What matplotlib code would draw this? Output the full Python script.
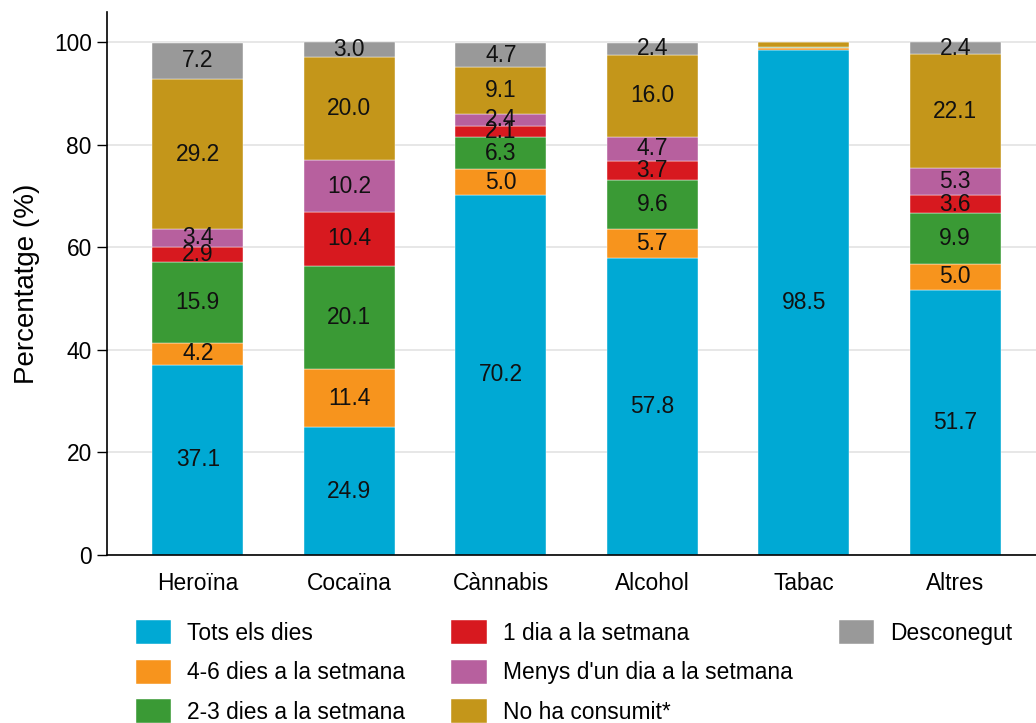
import matplotlib
matplotlib.use("Agg")
import matplotlib.pyplot as plt
from matplotlib.patches import Rectangle
import numpy as np

plt.rcParams['font.family'] = ['Liberation Sans', 'DejaVu Sans']

categories = ["Heroïna", "Cocaïna", "Cànnabis", "Alcohol", "Tabac", "Altres"]
series_names = ["Tots els dies", "4-6 dies a la setmana", "2-3 dies a la setmana",
                "1 dia a la setmana", "Menys d'un dia a la setmana", "No ha consumit*",
                "Desconegut"]
tots = [37.1, 24.9, 70.2, 57.8, 98.5, 51.7]
d46 = [4.2, 11.4, 5.0, 5.7, 0.3, 5.0]
d23 = [15.9, 20.1, 6.3, 9.6, 0.2, 9.9]
d1 = [2.9, 10.4, 2.1, 3.7, 0.0, 3.6]
menys = [3.4, 10.2, 2.4, 4.7, 0.0, 5.3]
no_cons = [29.2, 20.0, 9.1, 16.0, 1.0, 22.1]
descon = [7.2, 3.0, 4.7, 2.4, 0.0, 2.4]
colors = ["#00A9D4", "#F7941D", "#3A9A35", "#D7191F", "#B7609E", "#C4961A", "#999999"]

series = [tots, d46, d23, d1, menys, no_cons, descon]

fig = plt.figure(figsize=(10.36, 7.23), dpi=100)
ax = fig.add_axes([107/1036, 1-555/723, (1046-107)/1036, (555-12)/723])

x = np.arange(len(categories))
bottom = np.zeros(len(categories))
handles = []
for vals, name, col in zip(series, series_names, colors):
    v = np.array(vals)
    bars = ax.bar(x, v, 0.6, bottom=bottom, color=col, label=name, zorder=2,
                  edgecolor='white', linewidth=0.3)
    handles.append(bars)
    for xi, b, vi in zip(x, bottom, v):
        if vi >= 2:
            ax.text(xi, b + vi/2, f"{vi:.1f}", ha='center', va='center',
                    fontsize=16.4, color='#111111', zorder=3)
    bottom += v

ax.set_xlim(-0.6, 5.6)
ax.set_ylim(0, 105.85)
ax.set_yticks([0, 20, 40, 60, 80, 100])
ax.set_xticks(x)
ax.set_xticklabels(categories, fontsize=16.4)
ax.tick_params(axis='x', length=0, pad=12)
ax.tick_params(axis='y', labelsize=16.4, length=7, width=1, pad=4, direction='out')
ax.yaxis.grid(True, color='#e3e3e3', linewidth=1.2, zorder=0)
ax.set_axisbelow(True)
for s in ['top', 'right']:
    ax.spines[s].set_visible(False)
ax.spines['left'].set_linewidth(1.2)
ax.spines['bottom'].set_linewidth(1.2)
ax.set_ylabel("Percentatge (%)", fontsize=20, labelpad=10)

blank = Rectangle((0, 0), 1, 1, visible=False)
leg_handles = handles + [blank, blank]
leg_labels = series_names + ["", ""]
fig.legend(handles=leg_handles, labels=leg_labels, ncol=3, loc='upper left',
           bbox_to_anchor=(136/1036, 1-620/723), frameon=False, fontsize=16.4,
           handlelength=1.55, handleheight=1.24, handletextpad=0.71,
           columnspacing=2.02, labelspacing=0.66, borderpad=0, borderaxespad=0)

fig.savefig("out.png", dpi=100)
